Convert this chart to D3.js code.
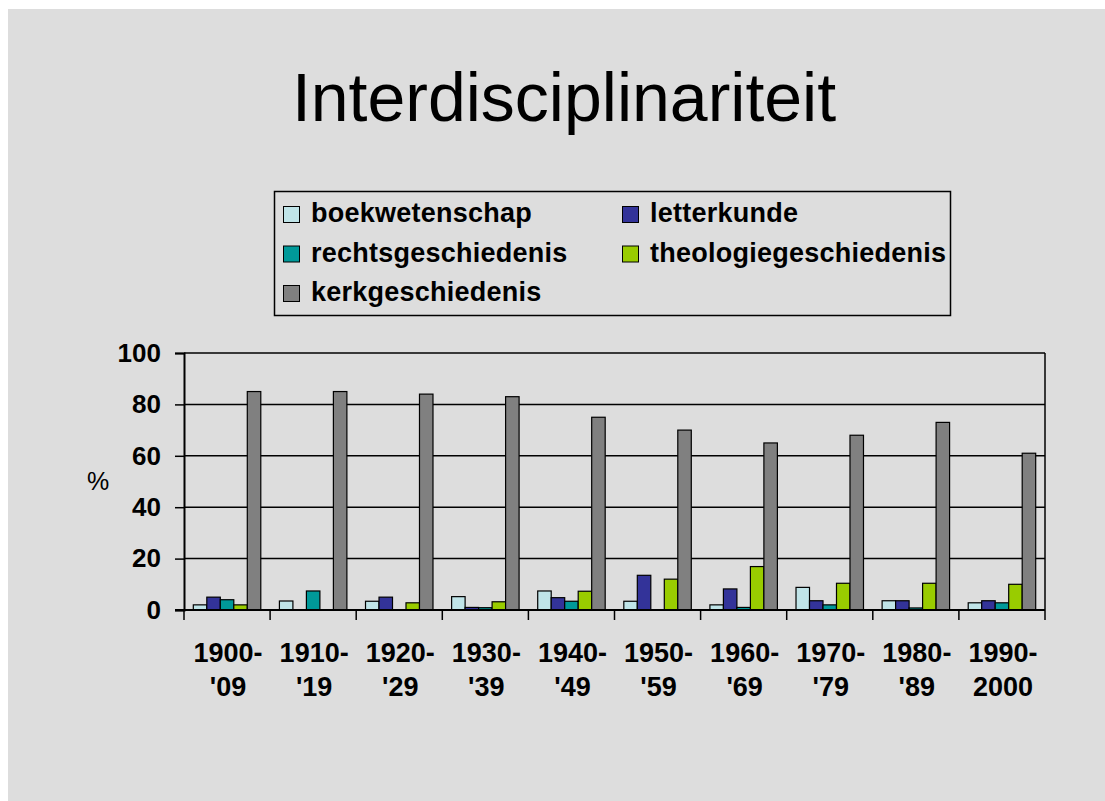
<!DOCTYPE html>
<html>
<head>
<meta charset="utf-8" />
<title>Interdisciplinariteit</title>
<style>
    html, body { margin: 0; padding: 0; background: #fff; }
    svg { display: block; font-family: "Liberation Sans", Arial, sans-serif; }
</style>
</head>
<body>
<div id="chart"></div>
<script src="https://cdn.jsdelivr.net/npm/d3@7"></script>
<script>
    // categories (two-line labels)
    var periods = ["1900-|'09", "1910-|'19", "1920-|'29", "1930-|'39", "1940-|'49",
                   "1950-|'59", "1960-|'69", "1970-|'79", "1980-|'89", "1990-|2000"];
    var seriesNames = ["boekwetenschap", "letterkunde", "rechtsgeschiedenis", "theologiegeschiedenis", "kerkgeschiedenis"];
    var seriesColors = ["#c0e4e8", "#333399", "#009999", "#99cc00", "#808080"];

    var boekwetenschap = [2, 3.5, 3.4, 5.2, 7.4, 3.4, 2, 8.8, 3.6, 2.8];
    var letterkunde = [5, 0, 5, 1, 4.8, 13.5, 8.2, 3.6, 3.6, 3.6];
    var rechtsgeschiedenis = [4, 7.4, 0, 0.9, 3.4, 0, 1, 2, 0.8, 2.8];
    var theologiegeschiedenis = [2, 0, 2.8, 3.2, 7.3, 12, 16.9, 10.4, 10.4, 10];
    var kerkgeschiedenis = [85, 85, 84, 83, 75, 70, 65, 68, 73, 61];
    var yTicks = [0, 20, 40, 60, 80, 100];

    var values = [boekwetenschap, letterkunde, rechtsgeschiedenis, theologiegeschiedenis, kerkgeschiedenis];

    var width = 1105, height = 801;
    var plot = { left: 184, right: 1045, top: 353, bottom: 610 };

    var svg = d3.select("#chart").append("svg")
        .attr("width", width)
        .attr("height", height);

    // gray slide background (white strip top / left)
    svg.append("rect")
        .attr("x", 8).attr("y", 9)
        .attr("width", width - 8).attr("height", height - 9)
        .attr("fill", "#dddddd");

    svg.append("text")
        .attr("x", 564).attr("y", 121)
        .attr("text-anchor", "middle")
        .attr("font-size", 68)
        .attr("fill", "#000")
        .text("Interdisciplinariteit");

    // legend
    var legend = svg.append("g");
    legend.append("rect")
        .attr("x", 274.5).attr("y", 191.5)
        .attr("width", 676).attr("height", 124)
        .attr("fill", "none")
        .attr("stroke", "#000")
        .attr("stroke-width", 1.5);

    var legendItems = legend.selectAll("g.item")
        .data(seriesNames)
        .join("g")
        .attr("class", "item")
        .attr("transform", (d, i) => `translate(${283 + (i % 2) * 339},${206 + Math.floor(i / 2) * 39.5})`);
    legendItems.append("rect")
        .attr("x", 0.5).attr("y", 0.5)
        .attr("width", 16).attr("height", 16)
        .attr("fill", (d, i) => seriesColors[i])
        .attr("stroke", "#000")
        .attr("stroke-width", 1);
    legendItems.append("text")
        .attr("x", 28).attr("y", 16)
        .attr("font-size", 27)
        .attr("letter-spacing", 0.25)
        .attr("font-weight", "bold")
        .text(d => d);

    // scales
    var x0 = d3.scaleBand().domain(periods).range([plot.left, plot.right]).padding(0);
    var x1 = d3.scaleBand().domain(seriesNames).range([0, x0.bandwidth()])
        .paddingInner(0).paddingOuter(0.69);
    var y = d3.scaleLinear().domain([0, 100]).range([plot.bottom, plot.top]);

    // grid lines
    svg.append("g")
        .selectAll("line")
        .data(yTicks.filter(t => t > 0))
        .join("line")
        .attr("x1", plot.left).attr("x2", plot.right)
        .attr("y1", d => y(d)).attr("y2", d => y(d))
        .attr("stroke", "#000")
        .attr("stroke-width", 1.5);

    svg.append("line")
        .attr("x1", plot.right).attr("x2", plot.right)
        .attr("y1", plot.top).attr("y2", plot.bottom)
        .attr("stroke", "#000").attr("stroke-width", 1.5);

    // bars
    var bars = [];
    periods.forEach((p, ci) => {
        seriesNames.forEach((s, si) => {
            bars.push({ period: p, series: s, si: si, value: values[si][ci] });
        });
    });

    svg.append("g")
        .selectAll("rect")
        .data(bars.filter(d => d.value > 0))
        .join("rect")
        .attr("x", d => x0(d.period) + x1(d.series))
        .attr("y", d => y(d.value))
        .attr("width", x1.bandwidth())
        .attr("height", d => y(0) - y(d.value))
        .attr("fill", d => seriesColors[d.si])
        .attr("stroke", "#000")
        .attr("stroke-width", 1.2);

    // y axis
    var yAxis = svg.append("g")
        .attr("transform", `translate(${plot.left},0)`)
        .call(d3.axisLeft(y).tickValues(yTicks).tickSize(9).tickPadding(14));
    yAxis.select(".domain").attr("stroke-width", 2);
    yAxis.selectAll(".tick line").attr("stroke-width", 1.5);
    yAxis.selectAll(".tick text")
        .attr("font-size", 26)
        .attr("font-weight", "bold")
        .attr("font-family", "\"Liberation Sans\", Arial, sans-serif")
        .attr("fill", "#000");

    svg.append("text")
        .attr("x", 98).attr("y", 490)
        .attr("text-anchor", "middle")
        .attr("font-size", 25)
        .text("%");

    // x axis
    var xAxis = svg.append("g")
        .attr("transform", `translate(0,${plot.bottom})`);
    xAxis.append("line")
        .attr("x1", plot.left - 9).attr("x2", plot.right)
        .attr("stroke", "#000").attr("stroke-width", 2);
    xAxis.selectAll("line.tick")
        .data(periods.concat([null]))
        .join("line")
        .attr("class", "tick")
        .attr("x1", (d, i) => plot.left + i * x0.step())
        .attr("x2", (d, i) => plot.left + i * x0.step())
        .attr("y1", 0).attr("y2", 10)
        .attr("stroke", "#000").attr("stroke-width", 1.5);
    var labels = xAxis.selectAll("text")
        .data(periods)
        .join("text")
        .attr("x", d => x0(d) + x0.bandwidth() / 2 + 1)
        .attr("text-anchor", "middle")
        .attr("font-size", 27)
        .attr("font-weight", "bold");
    labels.selectAll("tspan")
        .data(d => d.split("|"))
        .join("tspan")
        .attr("x", function () { return d3.select(this.parentNode).attr("x"); })
        .attr("y", (d, i) => 52 + i * 34)
        .text(d => d);
</script>
</body>
</html>
